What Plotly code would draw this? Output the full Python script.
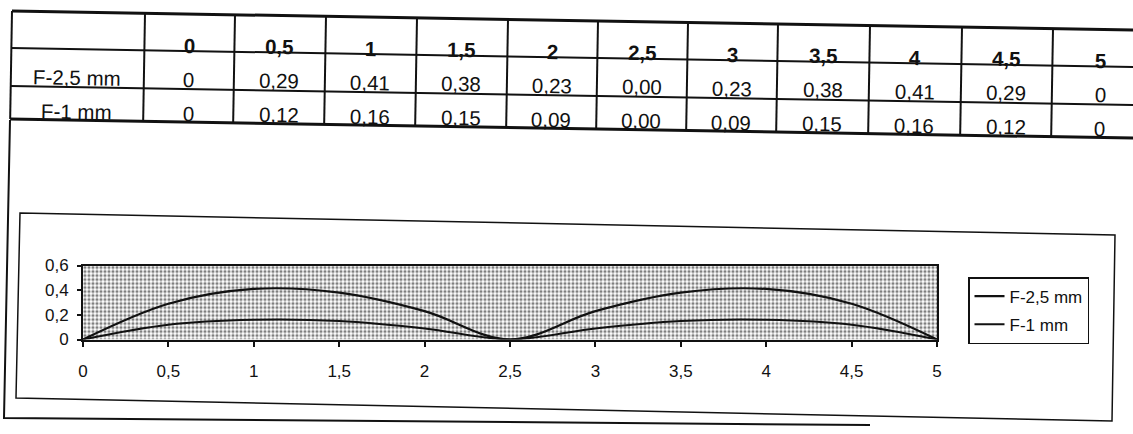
import math
import plotly.graph_objects as go

# ---------------- data ----------------
x_positions = [0, 0.5, 1, 1.5, 2, 2.5, 3, 3.5, 4, 4.5, 5]
x_labels = ["0", "0,5", "1", "1,5", "2", "2,5", "3", "3,5", "4", "4,5", "5"]
series_names = ["F-2,5 mm", "F-1 mm"]
f25_values = [0, 0.29, 0.41, 0.38, 0.23, 0.00, 0.23, 0.38, 0.41, 0.29, 0]
f1_values = [0, 0.12, 0.16, 0.15, 0.09, 0.00, 0.09, 0.15, 0.16, 0.12, 0]
table_decimals = [0, 2, 2, 2, 2, 2, 2, 2, 2, 2, 0]
y_ticks = [0, 0.2, 0.4, 0.6]
y_tick_labels = ["0", "0,2", "0,4", "0,6"]

# ---------------- layout helpers ----------------
W, H = 1133, 434
FONT = "Liberation Sans, Arial, sans-serif"
INK = "#111111"
S = 0.017  # scan skew (slope)
ANG = math.degrees(math.atan(S))


def px(x):
    return x / W


def py(y):
    return 1 - y / H


def skew(x, y):
    return x - S * (y - 11), y + S * (x - 12)


def fmt(v, d):
    return f"{v:.{d}f}".replace(".", ",")


shapes = []
annotations = []


def line(p1, p2, w=2, color=INK):
    shapes.append(dict(type="line", xref="paper", yref="paper",
                       x0=px(p1[0]), y0=py(p1[1]), x1=px(p2[0]), y1=py(p2[1]),
                       line=dict(color=color, width=w)))


def path(points, w=1.5, close=False):
    d = "M " + " L ".join(f"{px(a):.5f},{py(b):.5f}" for a, b in points)
    if close:
        d += " Z"
    shapes.append(dict(type="path", xref="paper", yref="paper", path=d,
                       line=dict(color=INK, width=w)))


def text(x, y, s, size=20.5, bold=False):
    X, Y = skew(x, y)
    annotations.append(dict(xref="paper", yref="paper", x=px(X), y=py(Y),
                            text=f"<b>{s}</b>" if bold else s, showarrow=False,
                            xanchor="center", yanchor="middle", textangle=ANG,
                            font=dict(family=FONT, size=size, color=INK)))


# ---------------- table ----------------
col_edges = [12, 145, 235, 326, 417, 508, 598, 688, 778, 870, 962, 1053, 1150]
row_edges = [11, 48, 86, 119]
row_widths = [3, 2, 2, 3]
for r, w in zip(row_edges, row_widths):
    line(skew(col_edges[0], r), skew(col_edges[-1], r), w=w)
for c in col_edges[:-1]:
    line(skew(c, row_edges[0]), skew(c, row_edges[-1]), w=2)

centers = [(col_edges[i] + col_edges[i + 1]) / 2 for i in range(len(col_edges) - 1)]
hdr_y, r1_y, r2_y = 42, 76, 110
text(centers[0], r1_y, series_names[0])
text(centers[0], r2_y, series_names[1])
for i, (lab, a, b, d) in enumerate(zip(x_labels, f25_values, f1_values, table_decimals)):
    cx = centers[i + 1]
    text(cx, hdr_y, lab, bold=True)
    text(cx, r1_y, fmt(a, d))
    text(cx, r2_y, fmt(b, d))

# ---------------- frames ----------------
path([(10, 120), (4, 418), (870, 425)], w=2)
path([(20, 213), (1115, 235), (1112, 421), (16, 398)], w=1.5, close=True)

# ---------------- chart ----------------
PL, PR, PT, PB = 83, 937, 265.5, 339.5

fig = go.Figure()
fig.add_trace(go.Scatter(
    x=x_positions, y=[max(y_ticks)] * len(x_positions), mode="lines",
    line=dict(width=0), fill="tozeroy", fillcolor="white",
    fillpattern=dict(shape=".", size=4, solidity=0.5, fgcolor="#000000",
                     bgcolor="white"),
    showlegend=False, hoverinfo="skip"))
for name, vals, w in zip(series_names, [f25_values, f1_values], [2.2, 2.0]):
    fig.add_trace(go.Scatter(
        x=x_positions, y=vals, name=name, mode="lines", legendgroup=name,
        line=dict(color=INK, width=w, shape="spline", smoothing=1.0)))

axis_common = dict(showline=True, mirror=True, linewidth=2, linecolor=INK,
                   showgrid=False, zeroline=False, ticks="outside",
                   tickcolor=INK, tickwidth=1.5, automargin=False,
                   tickfont=dict(family=FONT, size=17, color=INK))
fig.update_layout(
    width=W, height=H, autosize=False,
    margin=dict(l=0, r=0, t=0, b=0, pad=0, autoexpand=False),
    paper_bgcolor="white", plot_bgcolor="white",
    font=dict(family=FONT, color=INK),
    xaxis=dict(domain=[px(PL), px(PR)], range=[0, 5], tickvals=x_positions,
               ticktext=x_labels, ticklen=5, ticklabelstandoff=10, **axis_common),
    yaxis=dict(domain=[py(PB), py(PT)], range=[0, max(y_ticks)], tickvals=y_ticks,
               ticktext=y_tick_labels, ticklen=4, ticklabelstandoff=5, **axis_common),
    legend=dict(x=px(968), y=py(277), xanchor="left", yanchor="top",
                bordercolor=INK, borderwidth=1.5, bgcolor="white",
                font=dict(family=FONT, size=17, color=INK),
                tracegroupgap=3, itemwidth=30),
    shapes=shapes, annotations=annotations,
)

fig.write_html(
    "out.html",
    config={"displayModeBar": False},
    post_script="document.body.style.margin='0';document.body.style.overflow='hidden';",
)
